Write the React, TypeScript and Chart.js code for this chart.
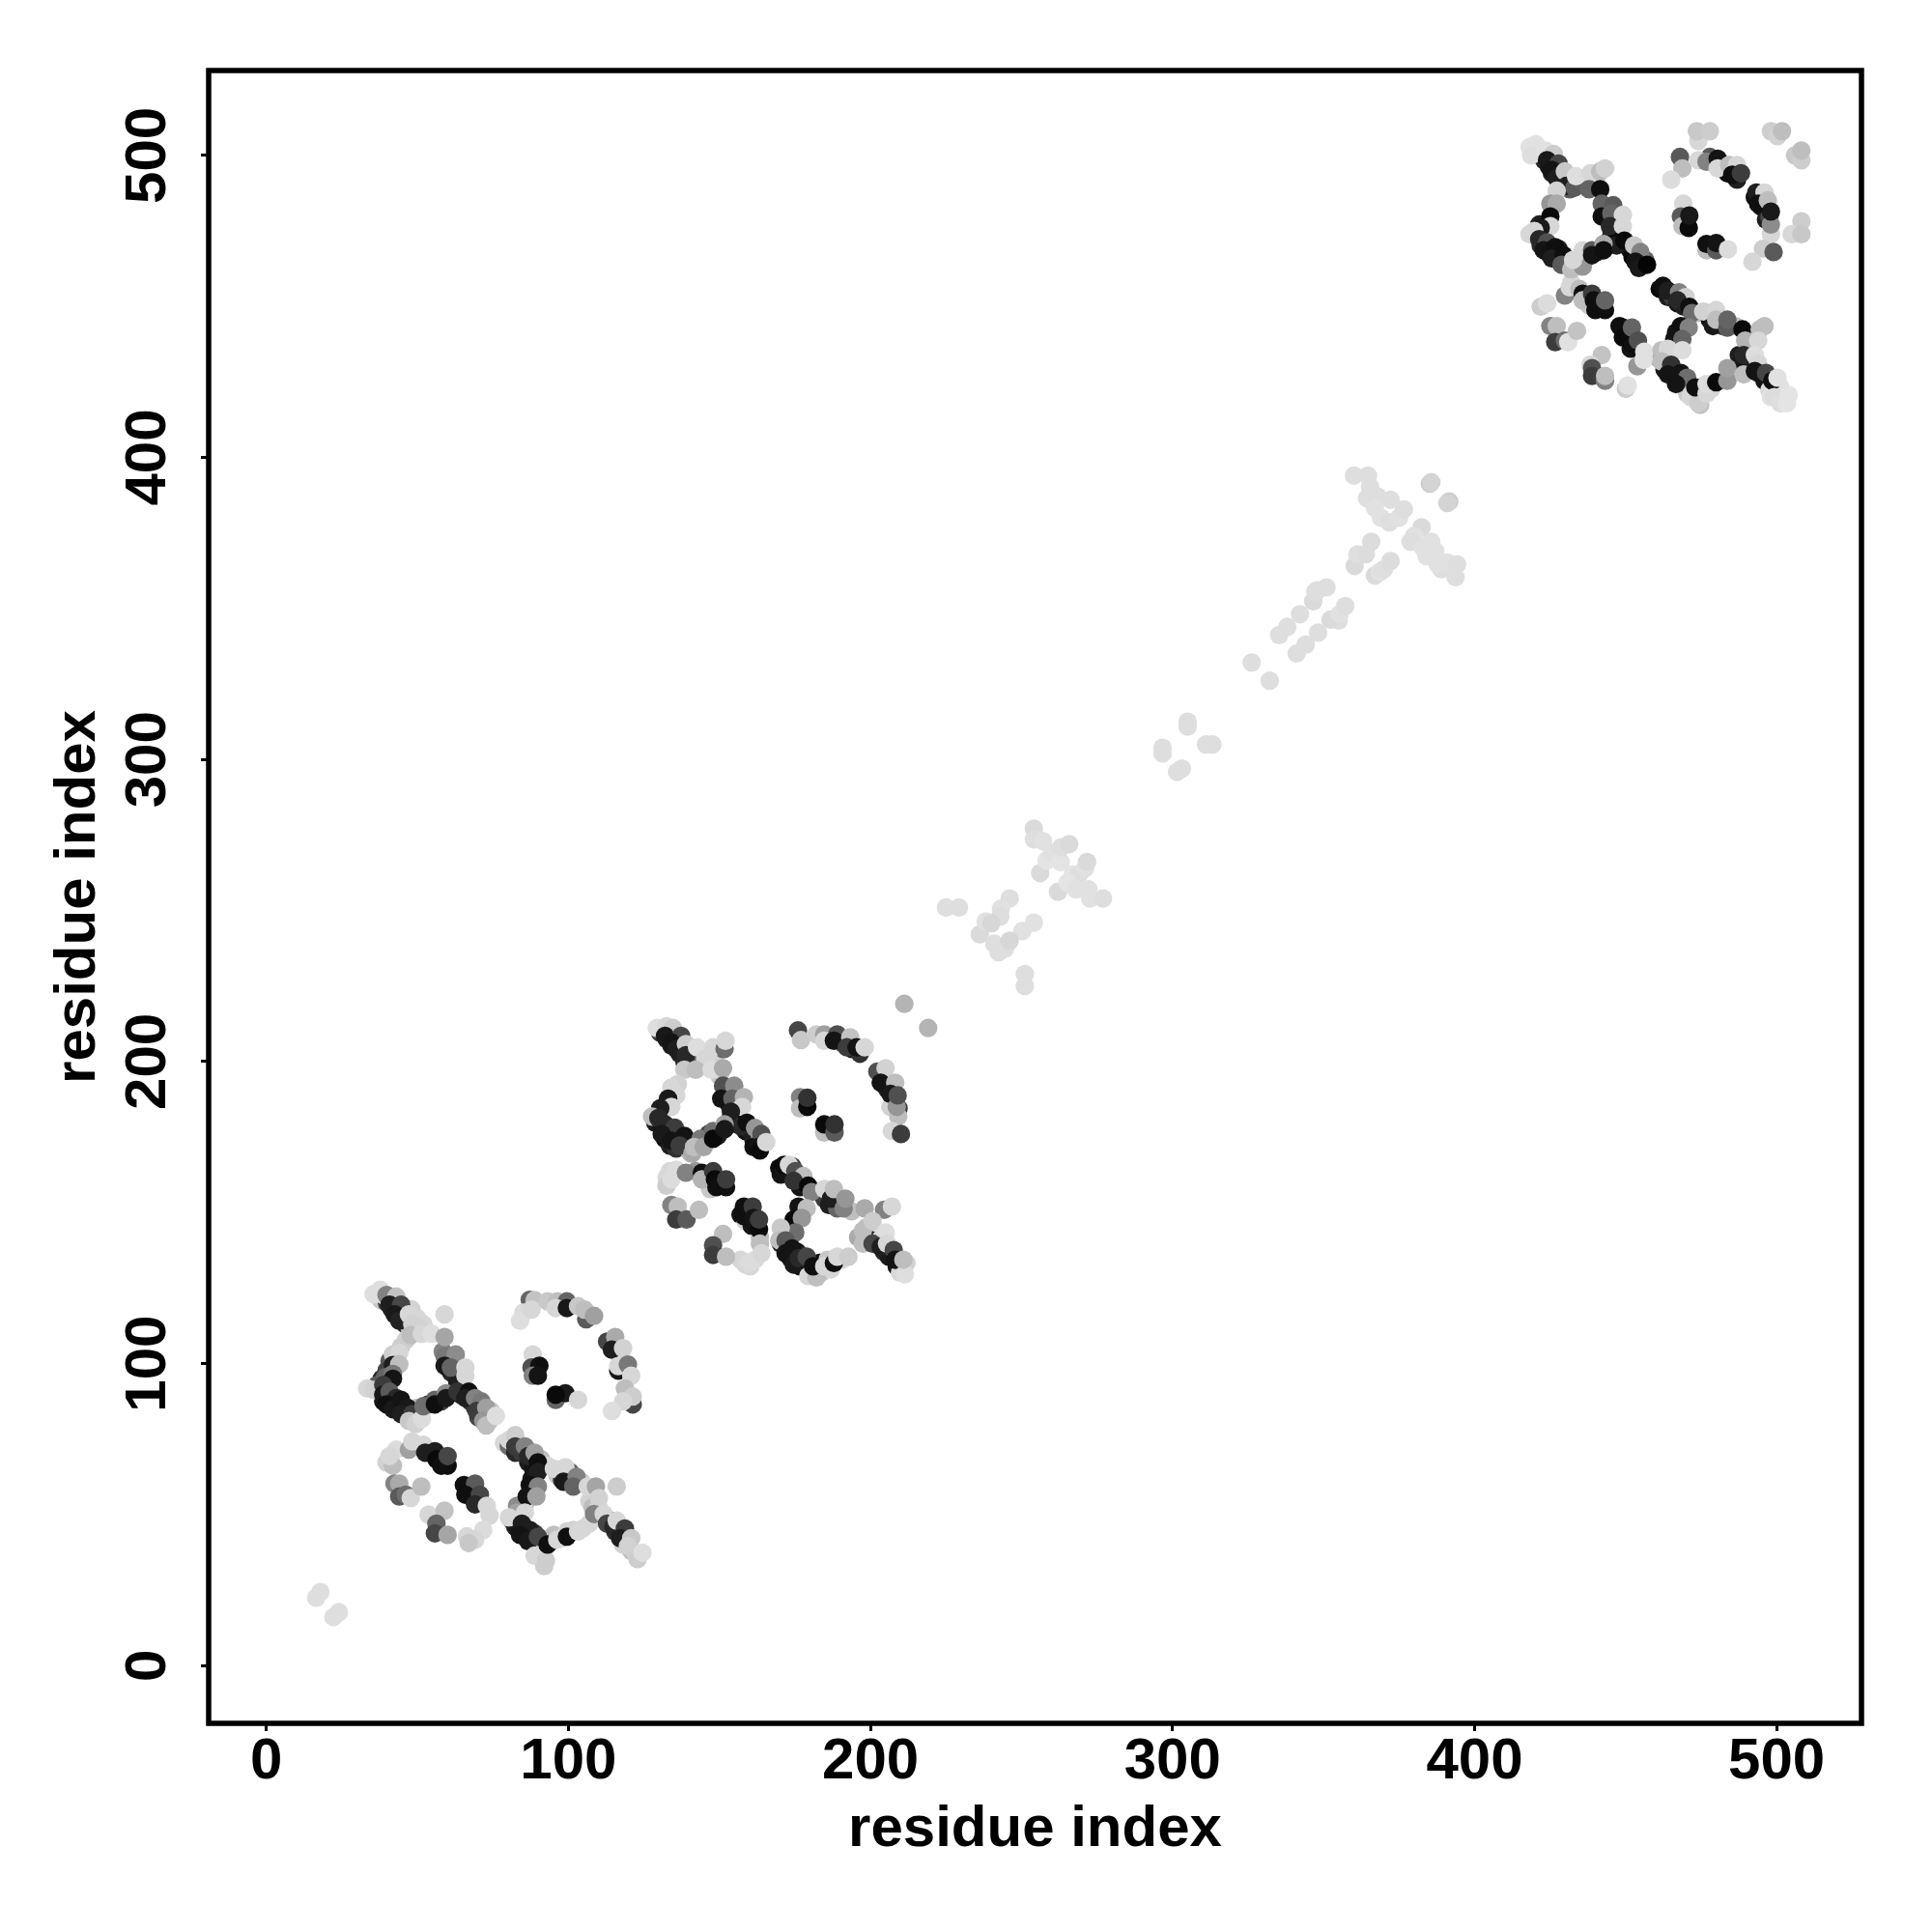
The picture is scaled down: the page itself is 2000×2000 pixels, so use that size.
import React, { useEffect, useRef } from "react";
import { Chart, registerables } from "chart.js";

Chart.register(...registerables);

type P = [number, number, number];

const tickValues = [0, 100, 200, 300, 400, 500];
const axisTitle = "residue index";

const nTerminal: P[] = [[16.5,22.5,222],[17.9,24.4,222],[22.2,16.1,222],[24,17.7,222]];

const domainAUnder: P[] = [
[38,121,200],[40,120,60],[41.5,118,40],[43,116,40],[44.5,118,150],[45.5,116,60],[46,113,50],[47.5,111.5,190],[49,110.5,190],[46,118,200],[48,118,210],[50,115,215],[52,113,215],[53,110.5,215],
[46.2,107.8,205],[44.6,105.6,205],[40.8,100.9,90],[39.8,97.7,70],[38.2,95,40],[36.6,92.9,90],[37.6,91.3,40],[38.7,87.5,20],[40.8,88.6,25],[43,86.5,15],[45.1,85.4,20],[47.2,83.3,40],[48.8,82.7,215],[49.9,85.4,190],[53.6,86.5,60],[57.9,87.5,60],
[58.4,104,130],[60,101.4,60],[62.2,100.3,110],[61.1,97.1,40],[63.2,93.9,30],[64.3,89.7,30],[65.9,90.7,20],[67.5,87.5,60],[69.1,85.4,50],[70.2,82.2,70],[71.8,83.3,150],[72.8,84.3,100],[73.9,81.1,200],[74.4,84.3,200],
[78.7,73.7,215],[80.3,72.6,110],[82.4,70.5,40],[84.6,70.5,60],[86.7,67.3,30],[88.3,65.2,20],[91,68.3,190],[93.1,66.2,215],[96.3,63,200],[97.9,61.4,60],[100.6,64.1,100],[104.3,60.9,205],[106.9,54.5,210],[108,52.4,190],[110.1,52.4,215],[111.7,48.6,110],[113.9,48,40],[115.5,44.4,50],[117.6,43.8,30],[118.1,40.1,210],[120.8,38,190],[122.4,36.9,210],
[87.8,61.9,20],[86.2,54.5,190],[85.1,53.4,215],[83,52.9,140],[81.4,48,60],[82.4,46,30],[83.5,44.9,25],[85.6,42.7,25],[87.8,42.2,30],[89.9,40.1,25],[88.8,43.8,60],[92,38.5,200],[94.2,41.2,20],[95.2,43.3,190],[97.9,42.2,200],[101.6,44.9,210],[104.8,45.4,215],
];

const domainA: P[] = [
[35.5,123,222],[37.7,124.5,222],[39,122.5,222],[39.8,122.7,130],[43,122.2,195],[40.8,119.5,30],[44.6,119.5,70],[42.5,116.3,25],[44,114.2,35],[47.2,116.3,215],[48.3,113.1,210],[50.4,112,210],[47.8,109.4,190],[51.5,109.9,215],[54.7,109.9,222],[59,116.3,215],[59,108.8,165],
[41.9,103,205],[44,103.5,215],[41.9,99.5,30],[44,99.8,190],[39.3,95.5,100],[41.9,96.6,120],[41.9,95,20],[33.4,91.8,215],[35.5,91.3,210],[38.7,92.9,60],[38.7,89.7,25],[40.8,90.7,90],[43,88.6,40],[39.8,86.5,15],[41.9,84.9,25],[44.6,88,20],[46.7,85.4,25],[44.6,83.3,30],[48.3,83.3,60],[47.2,81,200],[49.4,80,210],[51.5,81.7,220],[52,85.9,110],[55.8,88,100],[55.8,86.5,15],[59.5,90.2,140],[59.5,88.6,25],
[59,102.4,120],[62.7,103,140],[59,99.3,25],[61.1,98.7,100],[65.9,98.7,215],[65.9,96,215],[63.2,90.7,50],[67,90.7,15],[65.9,88.6,30],[69.1,88.6,130],[71.2,87.5,120],[69.6,84.3,60],[72.8,85.4,160],[71.8,81.1,150],[72.8,79.5,190],[76,82.7,222],
[40.8,68.3,190],[39.8,67.3,210],[41.9,66.2,190],[43,71.5,220],[40.8,69.4,215],[47.2,71.5,160],[48.3,74.2,215],[52,73.1,215],[52.6,70.5,30],[55.8,71,30],[56.3,68.3,10],[57.9,66.2,15],[60,66.2,15],[60,69.4,70],
[42.4,60.3,130],[44,60.3,170],[44,56,90],[46.2,56.6,110],[47.8,55.5,215],[51.3,59.3,190],
[65.4,59.8,15],[69.1,60.3,90],[65.9,56.6,15],[70.7,56.6,70],[69.1,53.4,40],[73,52.9,215],[73.9,49.7,215],[71.8,44.9,220],[66.4,42.8,215],[69.1,41.7,215],[67,40.6,200],
[53.7,50,215],[59,51.3,195],[56.3,47,100],[55.8,43.8,70],[60,43.3,165],
[87.2,121.1,100],[88.8,121,195],[85.1,116.9,220],[84,114.2,222],[87.8,117.9,215],[93.1,120.6,200],[96.3,120.6,190],[99.5,120.6,100],[95.8,118.4,215],[99.5,118.4,25],[103.2,119,200],[105.9,114.7,90],[105.3,117.9,190],[108.5,115.8,160],
[112.8,107.3,70],[115.5,108.8,170],[114.4,104.6,30],[118.1,105.1,210],[116.5,97.7,20],[116.5,99.2,215],[119.7,99.7,120],[120.8,96,215],[118.7,91.8,190],[121.3,86.5,70],[121.3,89.1,205],[118.1,87.5,215],[114.4,84.3,222],
[88.2,103,215],[87.8,98.7,80],[90.4,99.3,15],[88.2,96,130],[89.9,96,20],[95.8,88,100],[99,90.2,25],[95.8,89.7,10],[103.2,88,215],
[80.3,74.7,215],[82.4,76.3,205],[82.4,72.6,60],[85.6,72.6,130],[86.7,69.4,40],[88.8,70.5,160],[89.9,67.3,15],[89.9,64.1,30],[95.2,65.2,215],[99,65.7,215],[98.4,60.9,25],[102.7,62.5,130],[101.6,59.3,100],[106.4,59.3,215],[109.1,59.3,165],[116,59.3,205],
[87.2,59.8,15],[89.9,59.3,130],[86.2,56,20],[89.4,56,160],[83,50.7,160],[85.6,50.7,215],[80.3,49.1,215],[84.6,47,30],[87.2,44.9,30],[84,43.3,20],[86.7,41.2,25],[89.9,42.7,70],[88.8,36.4,215],[92,33,205],[91,36.4,215],[92.6,34.8,205],[93.1,40.1,15],[96.3,41.7,215],[99.5,44.4,210],[99.5,42.7,15],[103.2,44.4,215],[106.9,47,215],
[110.1,55.5,210],[108.5,50.2,130],[111.7,50.2,215],[112.8,47,70],[114.9,46,40],[116,48,215],[118.7,45.4,60],[117.1,42.2,30],[120.8,42.2,200],[119.7,39.6,210],[122.9,35.3,205],[124.5,37.4,222],
];

const domainBUnder: P[] = [
[130.4,209.5,60],[132.5,207.4,30],[134.1,205.3,30],[136.2,206.3,90],[136.8,202.6,30],[138.4,200,40],[140.5,198.9,70],[143.2,200.5,190],[145.3,198.3,220],[148.5,202.1,210],[146.4,203.1,215],[151.1,204.2,100],[150.1,195.1,200],[152.7,189.8,60],[156.5,186.6,190],[153.3,185.6,40],[155.4,182.4,30],[157.5,180.8,200],[158.6,177,20],[160.2,177,30],[161.3,173.8,30],[163.4,174.9,130],[161.3,171.7,15],
[132.5,186.1,60],[130.4,182.9,60],[128.8,179.7,30],[130.9,178.1,20],[132.5,177,20],[132,174.4,15],[135.7,176,15],[136.8,174.4,20],[133.6,172.2,30],[135.7,171.2,50],[138.9,171.7,190],[140.5,173.3,100],[140.5,169.6,190],[146.4,176,70],[149.5,175.4,30],[153.8,181.3,60],[156,179.2,10],
[169.8,164.8,10],[170.3,162.6,20],[174.1,165.3,60],[175.7,160.5,30],[176.7,158.4,20],[178.3,160,15],[182.6,156.8,190],[184.7,154.6,60],[186.3,152.5,30],[189,151.4,100],[193.8,150.4,190],
[174.1,145.6,20],[171.4,141.8,100],[170.3,139.7,40],[172.5,137.6,30],[173.5,134.9,20],[175.7,137,25],[177.8,135.4,50],[176.7,132.2,15],[179.4,131.2,20],[183.1,133.3,20],[185.8,134.4,200],[183.7,130.1,200],[186.9,131.2,215],[190.6,134.4,215],
[195.9,141.8,170],[198.6,145,190],[202.9,141.8,220],[200.7,140.8,30],[203.4,141.3,215],[204.5,137,40],[206.1,135.4,25],[208.7,132.2,20],[209.8,130.1,215],[211.9,133.3,210],
[186.9,208,140],[191.1,205.8,100],[193.8,204.2,30],[203.9,195.1,30],[205.5,190.9,40],[208.2,186.6,150],[206.6,185,210],[209.3,184.5,60],
[132.5,161.6,215],[142.1,163.7,150],[146.4,160,30],[146.9,157.8,200],[157,149.3,15],[158.6,147.2,210],[160.7,145.6,20],[163.4,141.8,190],[157,134.4,215],[160.2,132.2,215],[161.8,134.4,220],
];

const domainB: P[] = [
[129.3,211.1,222],[132.5,211.7,215],[134.6,211.1,205],[132,208.5,25],[137.3,208.5,70],[134.1,206.3,20],[135.7,204.2,30],[138.9,205.8,205],[142.1,201,100],[138.9,202.1,40],[142.6,204.7,222],[147.9,204.7,215],[151.7,204.2,110],[152,206.9,215],[145.3,201,215],[138.4,197.3,200],[142.1,197.3,190],[147.4,197.3,220],[151.2,197.8,170],
[151.2,192,80],[154.9,192,140],[150.6,187.7,20],[154.3,187.7,100],[158.1,188.2,180],[157.5,185,215],[153.8,183.4,30],[157,178.6,40],[159.1,179.7,15],[161.8,178,150],[163.9,176,80],[162.9,171.7,20],[163.4,170.6,10],[165.5,173.3,215],
[136.2,192.5,210],[134.1,191.4,215],[135.7,188.8,215],[133,187.7,25],[134.1,185,215],[130.4,184.5,30],[127.7,181.8,190],[129.8,181.3,40],[132,179.2,40],[135.2,178.1,60],[130.9,176,25],[134.1,173.8,20],[138.4,175.4,20],[136.8,172.2,60],[143.7,174.4,120],[141,169.6,170],[141.6,171.7,190],[144.8,171.7,165],[147.9,177,110],[147.9,174.4,10],[151.7,179.2,160],[151.7,177.6,25],
[176,210.3,70],[177,207.1,200],[182.1,209,205],[184.7,209,160],[184.7,206.9,215],[189,209,80],[187.9,206.9,20],[193.3,208,195],[192.2,204.7,60],[196.5,202.6,50],[195.4,204.7,20],[198.1,204.7,215],
[202.3,196.7,80],[205,197.8,210],[203.4,193,20],[208.2,193,190],[206.6,189.3,25],[209.2,181.8,190],[208.7,185,150],[209,188.8,80],[207.1,177,215],[210.1,176,60],
[176.7,188.2,130],[176.7,184.5,190],[179.1,185,10],[179.1,188,50],[184.7,176.5,190],[184.7,179.2,10],[188.1,176.5,90],[188.1,179.2,50],
[133.6,163.7,215],[132.5,158.9,205],[134.1,161,220],[135.7,164.2,220],[138.9,163.2,130],[144.2,163.2,15],[144.2,161,180],[147.9,163.7,60],[148.5,161,10],[149,158.4,15],[152.2,158.4,15],[152.2,161,60],
[134.1,152.5,130],[136.2,152,190],[135.7,147.7,60],[139.1,147.7,90],[143.2,150.9,190],
[158.1,152,15],[158.1,148.8,15],[161,152,60],[161.3,148.2,20],[163.1,144.5,10],[163.1,147.7,60],
[151.2,142.9,190],[147.9,139.2,80],[147.9,136,60],[152.2,135.4,190],[158.6,132.8,215],[159.7,133.3,220],[163.4,139.7,190],[163.9,136.5,215],
[171.4,165.8,10],[173,165.8,215],[175.1,163.7,80],[177.8,162.1,190],[174.6,160.5,50],[179.4,158.9,10],[180.5,156.8,130],[184.7,157.8,215],[186.9,154.6,30],[187.9,157.8,190],[191.1,151.4,130],[191.7,154.6,150],[198.1,151.4,170],[204.5,150.9,130],[207.1,152,215],
[176.2,152,20],[178.9,151.4,190],[174.6,147.7,10],[177.3,148.2,150],[175.1,143.4,110],[170.3,145,200],[169.8,140.8,190],[171.9,140.8,90],[174.1,138.1,20],[171.9,136.5,20],[174.6,132.8,25],[176.2,134.9,40],[178.9,135.4,70],[179.4,129,215],[182.1,128.5,190],[181,132.2,15],[184.7,132.2,215],[187.9,133.3,15],[189,135.4,215],[192.7,135.4,205],
[197.5,144,190],[200.7,147.2,205],[205,143.4,222],[197.5,139.7,190],[200.7,139.7,70],[203.4,138.6,30],[205.5,139.7,215],[207.7,137.6,70],[208.2,134.4,20],[211.4,129.6,222],[210.9,134.4,190],
];

const linkerBC: P[] = [
[211.2,219.1,180],[219.1,211.1,180],
[225,251,222],[229.3,251,222],[246.1,254,222],[243.2,250.6,225],[243,248,222],[236.2,242.1,218],[238.1,246.4,225],[240,245.8,215],[254.1,246,225],[250.3,243.2,225],[241,239,222],[242.4,236.2,222],[244.5,237.3,222],[246.1,240,215],
[251.1,229,222],[251.1,225,222],
[254.1,277.1,218],[254.1,273.6,222],[257.1,273,225],[256.2,262.4,218],[258.3,266.6,228],[260,269,225],[263,266,228],[263.1,270.9,222],[265.8,272,218],[267,262,228],[269,262,222],[271.1,264,225],[271.7,266.1,218],[262.1,256.2,218],[265.3,259.2,228],[268,257,225],[272.2,257,225],[272.7,254,225],[277,254,222],
[305,312.5,222],[305,310.9,222],[296.7,303.9,222],[296.7,302,222],[301.5,295.9,222],[303.1,297,222],[311.1,305,222],[313.2,305,222],
[326.2,332.1,222],[332.2,326.1,222],[335.3,341.2,222],[338,343.9,222],[341.1,335.1,222],[344.1,338,222],[342.2,348.1,222],[348.2,342,222],[346.6,352.4,218],[347.3,355.6,222],[348,356,222],[351,357,222],[355,346,222],[352.3,346.3,218],[355.3,348.1,225],[357.2,350.8,222],
[360.3,364.1,218],[361.2,367.9,222],[364,368,220],[365.8,372.1,220],[367,360.9,218],[368.6,362,225],[370,363,222],[372.2,365.7,220],
[360.1,394,222],[364.7,394,222],[365.4,390.2,222],[364.4,386.5,222],[368,387,222],[367,383.3,225],[369,380,225],[372.2,386,222],[371.8,378.5,222],[375,380,225],[376.6,382.8,222],
[385.2,391.3,205],[385.7,391.8,212],[391.6,385.4,205],[391,384.9,212],
[382.5,376.9,218],[380,374,225],[378.8,372.1,222],[383,370,225],[385.7,372.1,225],[387,369,225],[384.1,367.3,225],[389,363,222],[387.8,364.6,225],[391,365.2,225],[394.2,364.6,222],[393.7,360.4,222],
];

const domainCUnder: P[] = [
[421.4,500,215],[423,498.4,40],[424.6,496.3,20],[425.6,494.1,30],[427.8,492,50],[429.4,490.4,40],[431.5,488.8,90],[435.2,491,215],[439.5,490.4,100],[440.5,493.1,210],
[443.2,481.9,20],[446.9,478.2,200],[445.3,475,30],[448,473.4,15],[447.5,471.8,20],[451.2,469.1,15],[452.3,466.4,10],[454.9,464.8,15],[456.5,465.4,100],[454.4,465.9,170],
[424,478.2,215],[421.4,477.1,30],[419.8,473.4,190],[421.9,470.2,40],[423.5,470.2,30],[424.6,467.5,20],[427.8,469.1,30],[427.2,466.4,15],[428.8,465.9,50],[434.2,463.8,190],[431,463.2,190],[437.4,466.4,30],[440.5,468,40],[444.8,472.3,40],[446.4,471.8,10],[448.5,470.7,20],
[461.3,455.8,10],[464,453.1,30],[465.6,453.1,60],[467.2,451,20],[469.3,449.9,30],[473.6,447.8,190],[476.8,447.8,40],[477.9,445.6,20],[482.1,443.5,60],[486.4,443.5,190],
[466.7,441.4,20],[466.1,436,220],[460.8,432.8,170],[462.9,431.8,40],[462.9,429.1,25],[465.6,427.5,20],[468.3,425.4,30],[470.9,424.3,40],[470.4,421.1,200],[473.6,420.6,20],[475.2,423.2,15],[478.4,422.7,215],[474.7,417.4,195],
[487.5,433.9,30],[488.5,431.8,25],[490.7,430.7,15],[492.3,429.6,25],[493.9,428,20],[496,425.4,20],[497.6,422.2,220],[498.1,420,225],[501.3,423.2,225],
[477.9,499.5,90],[482.1,495.7,20],[483.7,494.1,15],[486.9,492,30],[492.8,486.1,15],[494.9,483,25],[496.5,478.7,30],[497.6,479.8,70],
[432,457.9,215],[437.4,453.1,30],[437.9,450.4,200],[448,443.5,15],[449.6,439.2,210],[451.7,436,20],
];

const domainC: P[] = [
[418.2,502.7,225],[420.3,503.7,225],[418.7,500,222],[423.5,501.6,225],[426.2,500.5,205],[424,498.4,25],[427.8,497.3,70],[425.6,495.2,20],[427.2,492.5,30],[429.9,494.7,200],[430.4,489.9,30],[433.1,489.3,90],[433.6,493.1,222],[438.4,494.1,215],[441.6,494.7,190],[443.2,495.7,210],[437.9,488.8,100],[427.2,488.3,210],[441.6,488.8,15],
[442.1,484,100],[445.9,483.5,90],[442.1,479.8,15],[445.3,480.8,100],[449.1,480.3,215],[444.8,476.6,40],[449.1,476.6,215],[447,470.2,30],[449.6,471.8,10],[452.8,470.2,200],[454.9,468,130],[453.3,464.8,20],[454.4,462.7,25],[457.1,463.8,5],
[425.1,484,150],[427.2,484,170],[425.1,479.8,10],[425.1,476.6,215],[421.9,476,25],[418.2,473.9,215],[419.8,475,215],[421.4,472.3,40],[424,471.2,80],[422.9,468.6,20],[426.7,469.6,15],[425.6,465.9,30],[429.4,467,15],[428.8,463.8,90],[432,462.2,190],[435.8,463.2,150],[432.6,465.4,215],[435.8,468.6,215],[438.9,468.6,90],[438.9,467,20],[442.7,470.7,170],[442.7,468.6,15],
[468,499.5,90],[468.8,495.7,190],[465.1,492,220],[474.1,498.4,215],[476.8,497.9,130],[480.5,498.9,20],[480.5,495.7,215],[484.3,496.8,190],[486.9,496.8,215],[485.3,493.6,15],[488.2,494.1,60],
[493.3,487.7,30],[496,487.7,215],[493.9,484,15],[497.1,485.1,190],[498.1,473.9,215],[498.1,477.1,140],[498.1,481.4,25],[495.5,469.1,205],[499,468,90],[492,464.8,215],
[474.1,504.8,215],[473.6,508,200],[477.9,508,205],[498.1,508,205],[500.3,506.4,210],[501.8,508,190],[506.1,500,200],[508.2,498.4,205],[508.2,501.6,190],[508.2,478.2,205],[505,473.9,215],[508.2,473.9,200],
[469.1,484,215],[468.3,479.8,90],[468.8,476.6,190],[470.9,476,10],[471.1,480.1,25],[476.8,468.6,190],[476.8,470.7,15],[480,468.6,90],[480,471,20],[483.9,468.9,220],
[421.9,449.9,205],[424,451,220],[429.9,453.6,130],[431.5,456.3,215],[434.7,455.8,190],[435.8,454.2,15],[435.8,452,190],[438.9,454.2,60],[439.5,452,15],[440,448.8,15],[443.2,448.8,15],[443.2,452,100],
[425.1,443.5,130],[427.2,443.5,190],[426.7,438.2,60],[429.9,438.7,110],[431,438.2,225],[433.9,441.9,195],
[449.1,443,15],[449.1,439.8,10],[452.1,443,100],[452.3,437.1,15],[454.1,438.7,80],[453.9,430.2,150],[456.2,435,225],[456,432.3,225],
[442.1,433.9,195],[438.4,430.7,215],[438.9,429.6,80],[438.9,427,60],[443.2,425.4,130],[443.2,427,190],[450.1,422.7,205],[450.7,423.8,225],
[462.4,456.8,15],[464,455.2,30],[467.7,454.7,130],[469.9,453.1,210],[467.2,452,40],[471.1,449.9,15],[472,447.8,110],[475.7,448.3,210],[480,448.8,215],[478.9,443.5,25],[480,445.6,190],[483.7,443,90],[483.7,445.6,100],[488.7,442.4,10],[494.4,442.4,190],[496,443.5,190],
[468.3,443.5,15],[470.9,443,130],[466.1,439.2,20],[468.8,439.2,100],[461.9,435.5,190],[464,436,215],[468.8,435.5,220],[461.9,431.8,190],[465.1,430.7,50],[464,427.5,20],[468.3,428,20],[470.4,426.4,110],[466.7,424.3,20],[471.5,420,215],[474.1,417.9,205],[473.1,423.2,15],[476.8,421.1,215],[476.8,424.3,220],[480,424.9,10],[483.7,425.4,150],[483.7,429.6,160],[489.1,427.5,190],
[489.6,438.7,180],[493.9,438.7,215],[489.1,433.9,40],[492.8,433.9,222],[493.9,431.2,215],[492.8,428.6,20],[496.5,428,70],[498.6,425.4,15],[500.3,426.4,225],[499.2,420,220],[501.3,417.9,222],[503.4,417.9,228],[504,420.6,228],
];

const AXIS_MIN = -19.1;
const AXIS_MAX = 528.1;

const makeDataset = (label: string, rows: P[]) => ({
  label,
  data: rows.map(([x, y]) => ({ x, y })),
  backgroundColor: rows.map(([, , g]) => `rgb(${g},${g},${g})`),
  borderWidth: 0,
  pointRadius: 9.6,
  pointHoverRadius: 9.6,
});

const framePlugin = {
  id: "frame",
  afterDatasetsDraw(chart: any) {
    const { ctx, chartArea: a, scales } = chart;
    ctx.save();
    ctx.lineWidth = 5.5;
    ctx.strokeStyle = "#000";
    ctx.lineJoin = "miter";
    ctx.strokeRect(a.left, a.top, a.right - a.left, a.bottom - a.top);
    ctx.fillStyle = "#000";
    ctx.font = 'bold 60px "Liberation Sans"';
    ctx.textAlign = "center";
    ctx.textBaseline = "alphabetic";
    for (const v of tickValues) {
      ctx.save();
      ctx.translate(171, scales.y.getPixelForValue(v));
      ctx.rotate(-Math.PI / 2);
      ctx.fillText(String(v), 0, 0);
      ctx.restore();
    }
    ctx.restore();
  },
};

export default function App() {
  const ref = useRef<HTMLCanvasElement>(null);
  useEffect(() => {
    const common = {
      type: "linear",
      min: AXIS_MIN,
      max: AXIS_MAX,
      afterBuildTicks: (s: any) => {
        s.ticks = tickValues.map((value) => ({ value }));
      },
      border: { display: false },
      grid: { drawOnChartArea: false, drawTicks: true, tickLength: 8, tickWidth: 3, tickColor: "#000" },
    };
    const titleFont = { family: "Liberation Sans", weight: "bold", size: 60 };
    const chart = new Chart(ref.current!, {
      type: "scatter",
      data: {
        datasets: [
          makeDataset("N-terminal", nTerminal),
          makeDataset("Domain A", [...domainAUnder, ...domainA]),
          makeDataset("Domain B", [...domainBUnder, ...domainB]),
          makeDataset("Linker", linkerBC),
          makeDataset("Domain C", [...domainCUnder, ...domainC]),
        ],
      },
      options: {
        animation: false,
        responsive: false,
        devicePixelRatio: 1,
        layout: { padding: { top: 73, right: 73, left: 0, bottom: 0 } },
        plugins: { legend: { display: false }, tooltip: { enabled: false } },
        scales: {
          x: {
            ...common,
            afterFit: (s: any) => {
              s.height = 216;
            },
            ticks: {
              color: "#000",
              padding: -4,
              maxRotation: 0,
              minRotation: 0,
              font: { family: "Liberation Sans", weight: "bold", size: 60 },
            },
            title: { display: true, text: axisTitle, color: "#000", font: titleFont, padding: { top: 0, bottom: 70 } },
          },
          y: {
            ...common,
            afterFit: (s: any) => {
              s.width = 216;
            },
            ticks: { display: false },
            title: { display: true, text: axisTitle, color: "#000", font: titleFont, padding: { top: 45, bottom: 0 } },
          },
        },
      } as any,
      plugins: [framePlugin],
    });
    return () => chart.destroy();
  }, []);
  return (
    <div style={{ position: "absolute", left: 0, top: 0, width: 2000, height: 2000, background: "#fff" }}>
      <canvas ref={ref} width={2000} height={2000} style={{ display: "block" }} />
    </div>
  );
}
